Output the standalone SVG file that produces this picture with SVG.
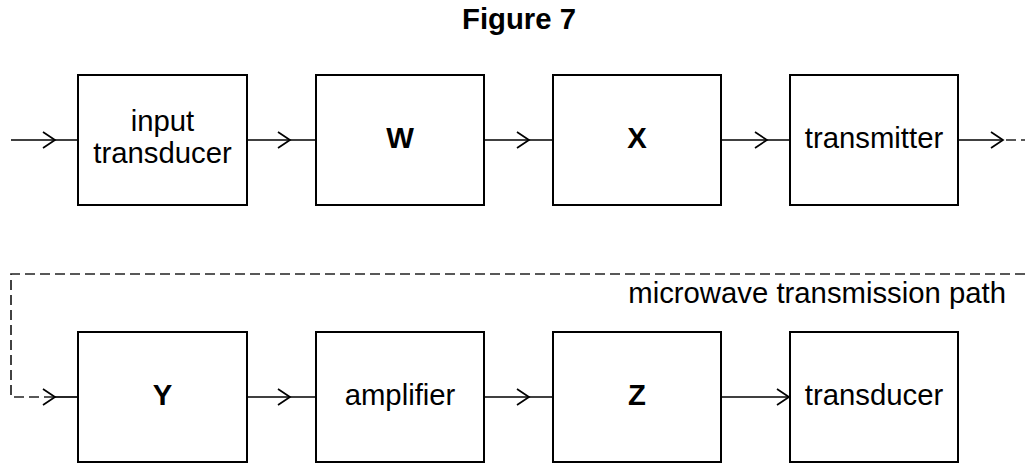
<svg xmlns="http://www.w3.org/2000/svg" xmlns:xlink="http://www.w3.org/1999/xlink" width="1025" height="463" viewBox="0 0 1025 463">
<style>
.box{fill:#fff;stroke:#000;stroke-width:2}
.ln{fill:none;stroke:#000;stroke-width:1.7}
.dash{fill:none;stroke:#222;stroke-width:1.7;stroke-dasharray:10 5}
.t{font-family:"Liberation Sans",Arial,sans-serif;font-size:29.3px;fill:#000;text-anchor:middle}
.b{font-weight:bold}
</style>
<defs>
<path id="chev" d="M-12,-8 L0,0 L-12,8" fill="none" stroke="#000" stroke-width="1.7"/>
</defs>
<rect width="1025" height="463" fill="#fff"/>
<text class="t b" x="519" y="29">Figure 7</text>
<g id="connectors">
<path class="ln" d="M11,140 H78"/>
<use xlink:href="#chev" transform="translate(55,140)"/>
<path class="ln" d="M247,140 H316"/>
<use xlink:href="#chev" transform="translate(290,140)"/>
<path class="ln" d="M484,140 H553"/>
<use xlink:href="#chev" transform="translate(529,140)"/>
<path class="ln" d="M721,140 H790"/>
<use xlink:href="#chev" transform="translate(767,140)"/>
<path class="ln" d="M958,140 H1003"/>
<use xlink:href="#chev" transform="translate(1003,140)"/>
<path class="dash" d="M1006,140 H1025"/>
<path class="dash" d="M1025,274 H11 V397 H55"/>
<use xlink:href="#chev" transform="translate(55,397)"/>
<path class="ln" d="M55,397 H78"/>
<path class="ln" d="M247,397 H316"/>
<use xlink:href="#chev" transform="translate(290,397)"/>
<path class="ln" d="M484,397 H553"/>
<use xlink:href="#chev" transform="translate(529,397)"/>
<path class="ln" d="M721,397 H790"/>
<use xlink:href="#chev" transform="translate(789,397)"/>
</g>
<text class="t" x="1006" y="303" style="text-anchor:end">microwave transmission path</text>
<g id="input-transducer">
<rect class="box" x="78" y="75" width="169" height="130"/>
<text class="t" x="162.5" y="131">input</text>
<text class="t" x="162.5" y="163">transducer</text>
</g>
<g id="W">
<rect class="box" x="316" y="75" width="168" height="130"/>
<text class="t b" x="400" y="148">W</text>
</g>
<g id="X">
<rect class="box" x="553" y="75" width="168" height="130"/>
<text class="t b" x="637" y="148">X</text>
</g>
<g id="transmitter">
<rect class="box" x="790" y="75" width="168" height="130"/>
<text class="t" x="874" y="148">transmitter</text>
</g>
<g id="Y">
<rect class="box" x="78" y="332" width="169" height="130"/>
<text class="t b" x="162.5" y="405">Y</text>
</g>
<g id="amplifier">
<rect class="box" x="316" y="332" width="168" height="130"/>
<text class="t" x="400" y="405">amplifier</text>
</g>
<g id="Z">
<rect class="box" x="553" y="332" width="168" height="130"/>
<text class="t b" x="637" y="405">Z</text>
</g>
<g id="transducer">
<rect class="box" x="790" y="332" width="168" height="130"/>
<text class="t" x="874" y="405">transducer</text>
</g>
</svg>
